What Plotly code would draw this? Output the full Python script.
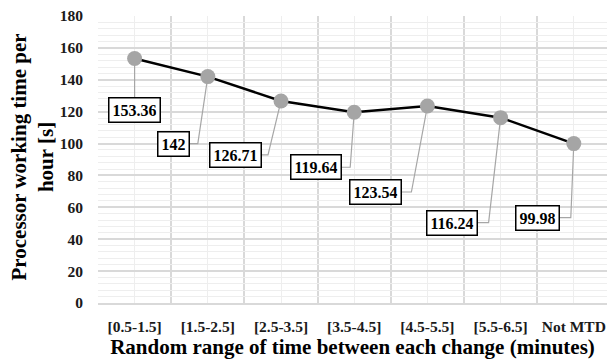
import plotly.graph_objects as go

# Processor working time per hour for each random change-interval range
categories = ["[0.5-1.5]", "[1.5-2.5]", "[2.5-3.5]", "[3.5-4.5]",
              "[4.5-5.5]", "[5.5-6.5]", "Not MTD"]
values = [153.36, 142, 126.71, 119.64, 123.54, 116.24, 99.98]

# Data-label placement (pixel offsets of each label box from its point; +down)
label_dx = [0, -34.5, -46, -38.5, -51.5, -49, -36]
label_dy = [51.5, 67, 54, 55, 86, 105, 74]
elbow_dx = [0, -10, -13, -4, -16, -12, -3]

W, H = 607, 362
M_L, M_R, M_T, M_B = 98, 0, 16, 59
PX_PER_CAT = 73.2
plot_w = W - M_L - M_R
plot_h = H - M_T - M_B
x_range = [-0.5, -0.5 + plot_w / PX_PER_CAT]
y_range = [0, 180]
px_x = plot_w / (x_range[1] - x_range[0])
px_y = plot_h / (y_range[1] - y_range[0])

FONT = "Liberation Serif"
LEADER = "#A6A6A6"
MAJOR_GRID = "#D9D9D9"
MINOR_GRID = "#EEEEEE"

xs = list(range(len(categories)))
fig = go.Figure()

# leader lines from each point to its label box
annotations = []
for i, v in enumerate(values):
    ly = v - label_dy[i] / px_y
    lx = i + label_dx[i] / px_x
    ex = i + elbow_dx[i] / px_x
    fig.add_trace(go.Scatter(
        x=[i, ex, lx], y=[v, ly, ly], mode="lines",
        line=dict(color=LEADER, width=1.2),
        hoverinfo="skip", showlegend=False, cliponaxis=False,
    ))
    annotations.append(dict(
        x=lx, y=ly, xref="x", yref="y", text=f"<b>{v:g}</b>", showarrow=False,
        font=dict(family=FONT, size=16, color="black"),
        bgcolor="white", bordercolor="black", borderwidth=1.5,
        borderpad=3, height=17,
    ))

fig.add_trace(go.Scatter(
    x=xs, y=values, mode="lines+markers",
    line=dict(color="black", width=2.5),
    marker=dict(size=15, color="#A5A5A5"),
    showlegend=False, cliponaxis=False,
))

tick_font = dict(family=FONT, size=15.5, color="#1a1a1a", weight="bold")
title_font = dict(family=FONT, size=21, color="black", weight="bold")

# y-axis title, two lines, rotated
annotations.append(dict(
    text="<b>Processor working time per<br>hour [s]</b>",
    xref="paper", yref="paper", x=(31.5 - M_L) / plot_w, y=(303 - 157) / plot_h,
    xanchor="center", yanchor="middle", textangle=-90, showarrow=False,
    font=dict(family=FONT, size=21, color="black"),
))

fig.update_layout(
    width=W, height=H,
    margin=dict(l=M_L, r=M_R, t=M_T, b=M_B),
    paper_bgcolor="white", plot_bgcolor="white",
    annotations=annotations,
    xaxis=dict(
        range=x_range, tickmode="array", tickvals=xs, ticktext=categories,
        tickfont=tick_font, showgrid=True, gridcolor=MINOR_GRID, gridwidth=1,
        zeroline=False, ticks="", ticklabelstandoff=9,
        minor=dict(tickmode="array",
                   tickvals=[i - 0.5 for i in range(len(categories) + 1)],
                   showgrid=True, gridcolor=MAJOR_GRID, gridwidth=1.5, ticks=""),
        showline=True, linecolor=MAJOR_GRID, linewidth=1.5,
        title=dict(text="Random range of time between each change (minutes)",
                   font=title_font, standoff=3),
        automargin=False,
    ),
    yaxis=dict(
        range=y_range, dtick=20, tickfont=tick_font, ticks="",
        showgrid=True, gridcolor=MAJOR_GRID, gridwidth=1.5,
        minor=dict(dtick=4, showgrid=True, gridcolor=MINOR_GRID, gridwidth=1),
        zeroline=False, ticklabelstandoff=14,
        automargin=False,
    ),
)

fig.write_html("out.html")
